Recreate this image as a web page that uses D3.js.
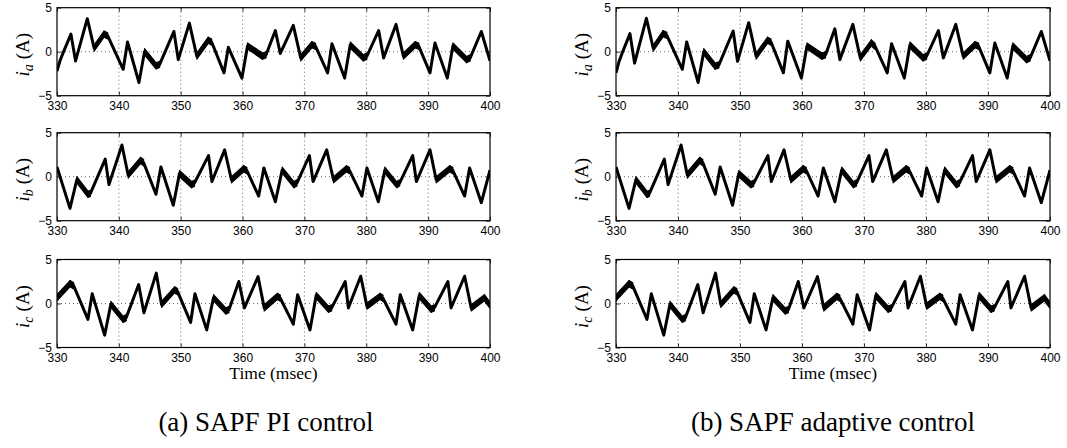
<!DOCTYPE html>
<html>
<head>
<meta charset="utf-8">
<script src="https://cdn.jsdelivr.net/npm/d3@7"></script>
<style>
  html, body { margin: 0; padding: 0; background: #fff; }
  svg { display: block; }
</style>
</head>
<body>
<svg id="chart" width="1067" height="448"></svg>
<script>
// Time axis (msec) and current axis (A) ticks
const timeTicks = [330, 340, 350, 360, 370, 380, 390, 400];
const currentTicks = [-5, 0, 5];
const timeDomain = [330, 400];
const currentDomain = [-5, 5];

// Phase currents: [time (msec), current (A), switching-ripple half-width (A)]
const piIa = [
  [330, -2.2, 0], [330.5, -1.0, 0], [331.0, -0.1, 0], [332.25, 2.0, 0], [333.0, -1.05, 0],
  [334.9, 3.75, 0], [336.0, 0.4, 0.35], [337.6, 2.0, 0.35], [338.2, 1.8, 0], [340.7, -2.0, 0],
  [341.4, 1.1, 0], [343.25, -3.5, 0], [344.15, 0.0, 0.35], [346.0, -1.6, 0.35], [346.6, -1.45, 0],
  [348.9, 2.3, 0], [349.6, -0.9, 0], [351.4, 3.25, 0], [352.6, -0.5, 0.35], [354.45, 1.3, 0.35],
  [355.0, 1.1, 0], [357.0, -2.4, 0], [357.7, 0.5, 0], [359.9, -3.0, 0], [360.8, 0.65, 0.35],
  [363.2, -0.5, 0.35], [363.8, -0.35, 0], [365.3, 2.4, 0], [366.1, -0.2, 0], [368.2, 3.0, 0],
  [369.4, -0.7, 0.35], [371.2, 0.8, 0.35], [371.8, 0.6, 0], [373.75, -2.4, 0], [374.45, 0.9, 0],
  [376.5, -3.0, 0], [377.4, 0.75, 0.35], [379.5, -0.7, 0.35], [380.1, -0.5, 0], [382.0, 2.4, 0],
  [382.8, -0.7, 0], [384.8, 3.1, 0], [386.0, -0.5, 0.35], [387.9, 0.8, 0.35], [388.5, 0.6, 0],
  [390.3, -2.4, 0], [391.1, 1.0, 0], [393.1, -3.0, 0], [394.0, 0.65, 0.35], [396.2, -0.9, 0.35],
  [396.8, -0.7, 0], [398.6, 2.3, 0], [400, -1.05, 0]
];

const piIb = [
  [330, 1.1, 0], [332.1, -3.6, 0], [333.2, -0.35, 0.35], [335.0, -2.0, 0.35], [335.4, -1.9, 0],
  [337.8, 2.0, 0], [338.4, -0.9, 0], [340.5, 3.6, 0], [341.5, 0.2, 0.35], [343.5, 1.85, 0.35],
  [344.0, 1.6, 0], [346.0, -2.0, 0], [346.8, 1.1, 0], [348.8, -3.25, 0], [349.8, 0.35, 0.35],
  [351.75, -0.9, 0.35], [352.2, -0.75, 0], [354.5, 2.4, 0], [355.05, -0.55, 0], [357.1, 3.05, 0],
  [358.2, -0.35, 0.35], [360.2, 0.9, 0.35], [360.7, 0.7, 0], [362.6, -2.2, 0], [363.45, 1.0, 0],
  [365.3, -2.85, 0], [366.4, 0.75, 0.35], [368.3, -0.9, 0.35], [368.8, -0.7, 0], [370.8, 2.4, 0],
  [371.4, -0.55, 0], [373.6, 3.05, 0], [374.7, -0.35, 0.35], [376.8, 0.9, 0.35], [377.3, 0.7, 0],
  [379.3, -2.2, 0], [380.1, 1.0, 0], [381.95, -2.85, 0], [383.0, 0.75, 0.35], [384.9, -0.9, 0.35],
  [385.4, -0.7, 0], [387.5, 2.4, 0], [388.1, -0.55, 0], [390.3, 3.05, 0], [391.3, -0.35, 0.35],
  [393.5, 0.9, 0.35], [394.0, 0.7, 0], [395.9, -2.2, 0], [396.7, 1.0, 0], [398.6, -2.95, 0],
  [400, 0.75, 0]
];

const piIc = [
  [330, 0.65, 0.35], [332.1, 2.25, 0.35], [332.7, 2.0, 0], [335.0, -1.8, 0], [335.7, 1.1, 0],
  [337.7, -3.6, 0], [338.7, -0.1, 0.35], [340.7, -1.8, 0.35], [341.2, -1.6, 0], [343.2, 2.15, 0],
  [344.05, -1.05, 0], [346.05, 3.45, 0], [346.9, -0.1, 0.35], [349.0, 1.55, 0.35], [349.5, 1.35, 0],
  [351.6, -2.15, 0], [352.3, 1.1, 0], [354.2, -3.0, 0], [355.3, 0.65, 0.35], [357.3, -0.85, 0.35],
  [357.8, -0.7, 0], [359.4, 2.5, 0], [360.3, -0.5, 0], [362.5, 3.05, 0], [363.5, -0.5, 0.35],
  [365.6, 0.8, 0.35], [366.1, 0.6, 0], [368.2, -2.35, 0], [368.9, 1.0, 0], [370.9, -3.0, 0],
  [371.9, 0.9, 0.35], [373.9, -0.65, 0.35], [374.4, -0.5, 0], [376.6, 2.5, 0], [377.1, -0.5, 0],
  [379.1, 3.1, 0], [380.1, -0.3, 0.35], [382.2, 0.8, 0.35], [382.7, 0.6, 0], [384.8, -2.35, 0],
  [385.5, 1.0, 0], [387.5, -3.0, 0], [388.55, 0.9, 0.35], [390.5, -0.65, 0.35], [391.0, -0.5, 0],
  [393.2, 2.5, 0], [393.7, -0.5, 0], [395.9, 3.1, 0], [396.95, -0.5, 0.35], [399.1, 0.65, 0.35],
  [400, -0.2, 0]
];

const adaptiveIa = [
  [330, -2.4, 0], [330.5, -1.1, 0], [331.0, -0.15, 0], [332.25, 2.05, 0], [333.0, -1.3, 0],
  [334.9, 3.8, 0], [336.0, 0.4, 0.35], [337.6, 2.05, 0.35], [338.2, 1.85, 0], [340.7, -2.0, 0],
  [341.4, 1.1, 0], [343.25, -3.5, 0], [344.15, 0.0, 0.35], [346.0, -1.65, 0.35], [346.6, -1.5, 0],
  [348.9, 2.35, 0], [349.6, -1.1, 0], [351.4, 3.3, 0], [352.6, -0.5, 0.35], [354.45, 1.3, 0.35],
  [355.0, 1.1, 0], [357.0, -2.4, 0], [357.7, 1.2, 0], [359.9, -3.0, 0], [360.8, 0.65, 0.35],
  [363.2, -0.5, 0.35], [363.8, -0.35, 0], [365.3, 2.6, 0], [366.1, -0.9, 0], [368.2, 3.1, 0],
  [369.4, -0.7, 0.35], [371.2, 1.0, 0.35], [371.8, 0.6, 0], [373.75, -2.4, 0], [374.45, 0.9, 0],
  [376.5, -3.0, 0], [377.4, 0.75, 0.35], [379.5, -0.7, 0.35], [380.1, -0.5, 0], [382.0, 2.4, 0],
  [382.8, -0.7, 0], [384.8, 3.1, 0], [386.0, -0.5, 0.35], [387.9, 0.8, 0.35], [388.5, 0.6, 0],
  [390.3, -2.4, 0], [391.1, 1.0, 0], [393.1, -3.0, 0], [394.0, 0.65, 0.35], [396.2, -0.9, 0.35],
  [396.8, -0.7, 0], [398.6, 2.3, 0], [400, -1.05, 0]
];

const adaptiveIb = piIb.map(d => d.slice());
const adaptiveIc = piIc.map(d => d.slice());

const columns = [
  { left: 57, right: 490, series: [piIa, piIb, piIc], caption: "(a) SAPF PI control", captionX: 266 },
  { left: 616, right: 1050, series: [adaptiveIa, adaptiveIb, adaptiveIc], caption: "(b) SAPF adaptive control", captionX: 833 }
];
const phases = ["a", "b", "c"];
const rowTops = [7.7, 132.7, 259.5];
const rowHeight = 88;

const svg = d3.select("#chart");
const sansFont = "'Liberation Sans', Arial, Helvetica, sans-serif";
const serifFont = "'Liberation Serif', 'Times New Roman', serif";

columns.forEach((col, ci) => {
  const x = d3.scaleLinear().domain(timeDomain).range([col.left, col.right]);

  col.series.forEach((data, ri) => {
    const top = rowTops[ri];
    const bottom = top + rowHeight;
    const y = d3.scaleLinear().domain(currentDomain).range([bottom, top]);
    const g = svg.append("g");

    const clipId = `clip-${ci}-${ri}`;
    svg.append("clipPath").attr("id", clipId)
      .append("rect")
      .attr("x", col.left).attr("y", top)
      .attr("width", col.right - col.left).attr("height", rowHeight);

    // dotted grid
    const grid = g.append("g")
      .attr("stroke", "#444")
      .attr("stroke-width", 0.8)
      .attr("stroke-dasharray", "1,3");
    grid.selectAll("line.v")
      .data(timeTicks.filter(t => t > timeDomain[0] && t < timeDomain[1]))
      .join("line")
      .attr("x1", d => x(d)).attr("x2", d => x(d))
      .attr("y1", top).attr("y2", bottom);
    grid.selectAll("line.h")
      .data(currentTicks.filter(v => v > currentDomain[0] && v < currentDomain[1]))
      .join("line")
      .attr("x1", col.left).attr("x2", col.right)
      .attr("y1", d => y(d)).attr("y2", d => y(d));

    const plot = g.append("g").attr("clip-path", `url(#${clipId})`);

    // ripple bands on the segments where the switching ripple is visible
    const band = d3.area()
      .x(d => x(d.t))
      .y0(d => y(d.v - d.r))
      .y1(d => y(d.v + d.r));
    const segments = [];
    data.forEach((d, i) => {
      if (d[2] > 0 && i + 1 < data.length) {
        const n = data[i + 1];
        segments.push([{ t: d[0], v: d[1], r: d[2] }, { t: n[0], v: n[1], r: d[2] }]);
      }
    });
    plot.selectAll("path.band")
      .data(segments)
      .join("path")
      .attr("class", "band")
      .attr("d", band)
      .attr("fill", "#000")
      .attr("stroke", "#000")
      .attr("stroke-width", 1.2)
      .attr("stroke-linejoin", "round");

    const line = d3.line().x(d => x(d[0])).y(d => y(d[1]));
    plot.append("path")
      .datum(data)
      .attr("d", line)
      .attr("fill", "none")
      .attr("stroke", "#000")
      .attr("stroke-width", 3)
      .attr("stroke-linejoin", "round");

    // axes with inward ticks
    const xAxis = g.append("g")
      .attr("transform", `translate(0,${bottom})`)
      .call(d3.axisBottom(x).tickValues(timeTicks).tickSize(-4).tickPadding(6).tickFormat(d3.format("d")));
    const xTop = g.append("g")
      .attr("transform", `translate(0,${top})`)
      .call(d3.axisTop(x).tickValues(timeTicks).tickSize(-4).tickFormat(""));
    const yAxis = g.append("g")
      .attr("transform", `translate(${col.left},0)`)
      .call(d3.axisLeft(y).tickValues(currentTicks).tickSize(-4).tickPadding(5).tickFormat(d3.format("d")));
    const yRight = g.append("g")
      .attr("transform", `translate(${col.right},0)`)
      .call(d3.axisRight(y).tickValues(currentTicks).tickSize(-4).tickFormat(""));
    [xAxis, xTop, yAxis, yRight].forEach(a => {
      a.select(".domain").remove();
      a.selectAll("line").attr("stroke", "#000").attr("stroke-width", 0.8);
      a.selectAll("text")
        .attr("font-family", sansFont)
        .attr("font-size", 12)
        .attr("fill", "#000");
    });

    // frame
    g.append("rect")
      .attr("x", col.left).attr("y", top)
      .attr("width", col.right - col.left).attr("height", rowHeight)
      .attr("fill", "none").attr("stroke", "#000").attr("stroke-width", 1.2);

    // y label: i_phase (A)
    const yl = g.append("text")
      .attr("transform", `translate(${col.left - 28},${top + rowHeight / 2 + 3}) rotate(-90)`)
      .attr("text-anchor", "middle")
      .attr("font-family", serifFont)
      .attr("font-size", 19)
      .attr("fill", "#000");
    yl.append("tspan").attr("font-style", "italic").text("i");
    yl.append("tspan").attr("font-style", "italic").attr("font-size", 14).attr("dy", 4).text(phases[ri]);
    yl.append("tspan").attr("dy", -4).attr("dx", 5).text("(A)");
  });

  const mid = (col.left + col.right) / 2;
  svg.append("text")
    .attr("x", mid).attr("y", 379)
    .attr("text-anchor", "middle")
    .attr("font-family", serifFont)
    .attr("font-size", 17.5)
    .attr("fill", "#000")
    .text("Time (msec)");

  svg.append("text")
    .attr("x", col.captionX).attr("y", 431)
    .attr("text-anchor", "middle")
    .attr("font-family", serifFont)
    .attr("font-size", 27)
    .attr("fill", "#000")
    .text(col.caption);
});
</script>
</body>
</html>
